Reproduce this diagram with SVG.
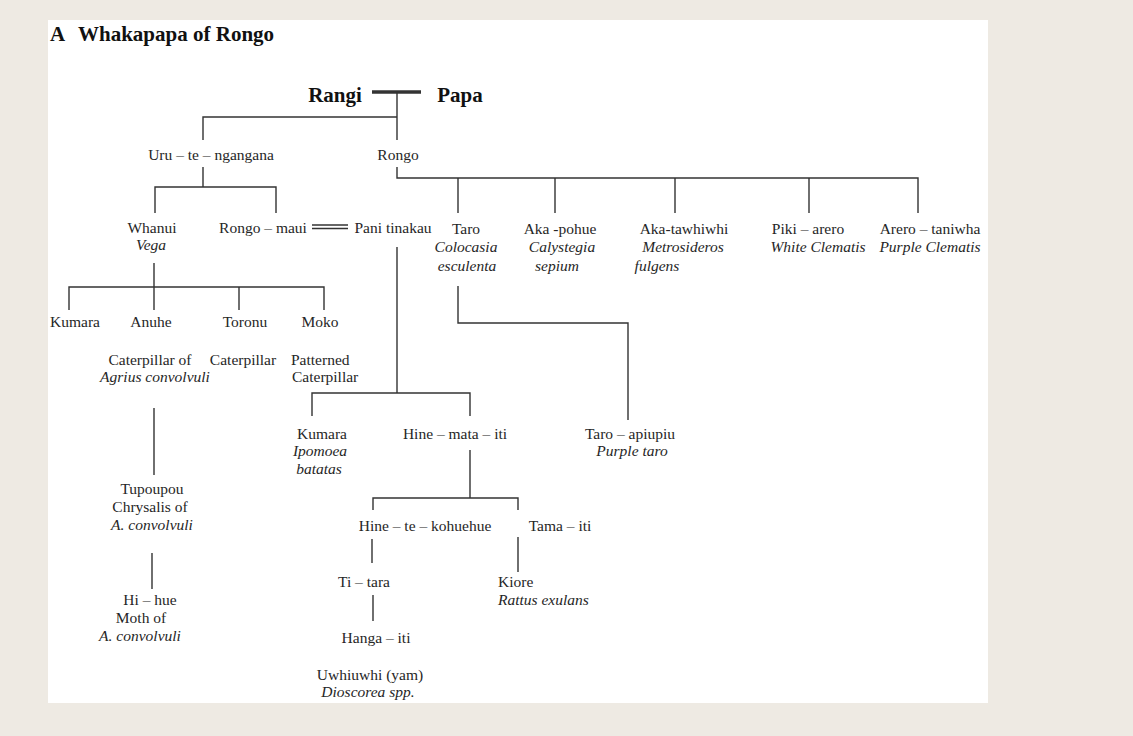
<svg xmlns="http://www.w3.org/2000/svg" width="1133" height="736" viewBox="0 0 1133 736">
<style>
text{font-family:"Liberation Serif","Times New Roman",serif;font-size:15.5px;fill:#262626;text-anchor:middle}
.i{font-style:italic}
.b{font-weight:bold;font-size:21px;fill:#111}
.l{text-anchor:start}
.c line,.c polyline{stroke:#333;stroke-width:1.4;fill:none}
</style>
<rect width="1133" height="736" fill="#eeeae3"/>
<rect x="48" y="20" width="940" height="683" fill="#fff"/>
<g id="title"><text class="b l" x="50" y="41" style="font-size:21px">A<tspan x="78">Whakapapa of Rongo</tspan></text></g>
<g class="c" id="connectors">
<line x1="372" y1="92" x2="421" y2="92" style="stroke-width:3.5"/>
<line x1="397" y1="92" x2="397" y2="140"/>
<polyline points="397,117 203,117 203,140"/>
<line x1="203" y1="167" x2="203" y2="187"/>
<polyline points="155,213 155,187 276,187 276,213"/>
<polyline points="397,167 397,178 918,178 918,213"/>
<line x1="458" y1="178" x2="458" y2="213"/>
<line x1="555" y1="178" x2="555" y2="213"/>
<line x1="675" y1="178" x2="675" y2="213"/>
<line x1="809" y1="178" x2="809" y2="213"/>
<line x1="312" y1="225" x2="348" y2="225"/>
<line x1="312" y1="228.5" x2="348" y2="228.5"/>
<line x1="397" y1="247" x2="397" y2="393"/>
<polyline points="312,416 312,393 470,393 470,416"/>
<line x1="154" y1="263" x2="154" y2="287"/>
<polyline points="69,310 69,287 324,287 324,310"/>
<line x1="154" y1="287" x2="154" y2="310"/>
<line x1="239" y1="287" x2="239" y2="310"/>
<line x1="154" y1="408" x2="154" y2="475"/>
<line x1="152" y1="553" x2="152" y2="589"/>
<polyline points="458,286 458,323 628,323 628,420"/>
<line x1="470" y1="450" x2="470" y2="498"/>
<polyline points="373,510 373,498 518,498 518,510"/>
<line x1="372" y1="539" x2="372" y2="563"/>
<line x1="518" y1="537" x2="518" y2="572"/>
<line x1="373" y1="595" x2="373" y2="621"/>
</g>
<g id="rangi"><text class="b" x="335" y="102">Rangi</text></g>
<g id="papa"><text class="b" x="460" y="102">Papa</text></g>
<g id="uru"><text x="211" y="160">Uru – te – ngangana</text></g>
<g id="rongo"><text x="398" y="160">Rongo</text></g>
<g id="whanui"><text x="152" y="233">Whanui</text><text class="i" x="151" y="250">Vega</text></g>
<g id="rongo-maui"><text x="263" y="233">Rongo – maui</text></g>
<g id="pani"><text x="393" y="233">Pani tinakau</text></g>
<g id="taro"><text x="466" y="234">Taro</text><text class="i" x="466" y="252">Colocasia</text><text class="i" x="467" y="271">esculenta</text></g>
<g id="aka-pohue"><text x="560" y="234">Aka -pohue</text><text class="i" x="562" y="252">Calystegia</text><text class="i" x="557" y="271">sepium</text></g>
<g id="aka-tawhiwhi"><text x="684" y="234">Aka-tawhiwhi</text><text class="i" x="683" y="252">Metrosideros</text><text class="i" x="657" y="271">fulgens</text></g>
<g id="piki-arero"><text x="808" y="234">Piki – arero</text><text class="i" x="818" y="252">White Clematis</text></g>
<g id="arero-taniwha"><text x="930" y="234">Arero – taniwha</text><text class="i" x="930" y="252">Purple Clematis</text></g>
<g id="kumara1"><text x="75" y="327">Kumara</text></g>
<g id="anuhe"><text x="151" y="327">Anuhe</text><text x="150" y="365">Caterpillar of</text><text class="i" x="155" y="382">Agrius convolvuli</text></g>
<g id="toronu"><text x="245" y="327">Toronu</text><text x="243" y="365">Caterpillar</text></g>
<g id="moko"><text x="320" y="327">Moko</text><text class="l" x="291" y="365">Patterned</text><text class="l" x="292" y="382">Caterpillar</text></g>
<g id="kumara2"><text x="322" y="439">Kumara</text><text class="i" x="320" y="456">Ipomoea</text><text class="i" x="319" y="474">batatas</text></g>
<g id="hine-mata-iti"><text x="455" y="439">Hine – mata – iti</text></g>
<g id="taro-apiupiu"><text x="630" y="439">Taro – apiupiu</text><text class="i" x="632" y="456">Purple taro</text></g>
<g id="tupoupou"><text x="152" y="494">Tupoupou</text><text x="150" y="512">Chrysalis of</text><text class="i" x="152" y="530">A. convolvuli</text></g>
<g id="hi-hue"><text x="150" y="605">Hi – hue</text><text x="141" y="623">Moth of</text><text class="i" x="140" y="641">A. convolvuli</text></g>
<g id="hine-te-kohuehue"><text x="425" y="531">Hine – te – kohuehue</text></g>
<g id="tama-iti"><text x="560" y="531">Tama – iti</text></g>
<g id="ti-tara"><text x="364" y="587">Ti – tara</text></g>
<g id="kiore"><text class="l" x="498" y="587">Kiore</text><text class="i l" x="498" y="605">Rattus exulans</text></g>
<g id="hanga-iti"><text x="376" y="643">Hanga – iti</text></g>
<g id="uwhiuwhi"><text x="370" y="680">Uwhiuwhi (yam)</text><text class="i" x="368" y="697">Dioscorea spp.</text></g>
</svg>
